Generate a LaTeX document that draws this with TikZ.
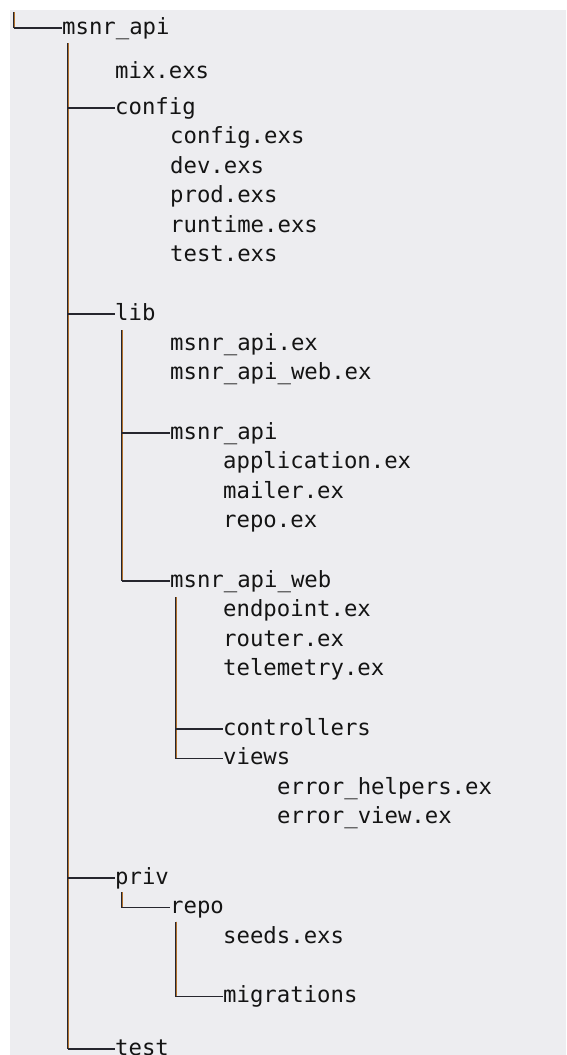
\documentclass[tikz,border=0pt]{standalone}
\usepackage{fontspec}
\setmonofont{DejaVu Sans Mono}
\definecolor{panel}{HTML}{EDEDF0}
\definecolor{ink}{HTML}{141414}
\definecolor{wire}{HTML}{26262E}
\definecolor{glow}{HTML}{B0702C}
\begin{document}
\ttfamily\fontsize{22.3}{27}\selectfont
\begin{tikzpicture}[x=1pt,y=-1pt,
		entry/.style={anchor=mid west,inner sep=0pt,text=ink},
		wires/.style={draw=wire,line width=1.3pt},
		pipe/.style={draw=wire,line width=1.4pt,postaction={draw=glow,line width=0.6pt,xshift=1.1pt}}]
	\useasboundingbox (0,0) rectangle (566,1055);
	\fill[panel] (10,10) rectangle (566,1055);
	% root
	\node[entry] (api) at (62,28) {msnr\_api};
	\node[entry] (mix) at (115,72) {mix.exs};
	\node[entry] (config) at (115,108) {config};
	\node[entry] (cfgexs) at (170,137.5) {config.exs};
	\node[entry] (dev) at (170,167) {dev.exs};
	\node[entry] (prod) at (170,196.5) {prod.exs};
	\node[entry] (runtime) at (170,226) {runtime.exs};
	\node[entry] (testexs) at (170,255.5) {test.exs};
	\node[entry] (lib) at (115,314) {lib};
	\node[entry] (apiex) at (170,344) {msnr\_api.ex};
	\node[entry] (webex) at (170,373.5) {msnr\_api\_web.ex};
	\node[entry] (libapi) at (170,433) {msnr\_api};
	\node[entry] (app) at (223,462.5) {application.ex};
	\node[entry] (mailer) at (223,492) {mailer.ex};
	\node[entry] (repoex) at (223,521.5) {repo.ex};
	\node[entry] (libweb) at (170,581) {msnr\_api\_web};
	\node[entry] (endpoint) at (223,610.5) {endpoint.ex};
	\node[entry] (router) at (223,640) {router.ex};
	\node[entry] (telemetry) at (223,669.5) {telemetry.ex};
	\node[entry] (ctrl) at (223,729) {controllers};
	\node[entry] (views) at (223,758.5) {views};
	\node[entry] (helpers) at (277,788) {error\_helpers.ex};
	\node[entry] (errview) at (277,817.5) {error\_view.ex};
	\node[entry] (priv) at (115,878) {priv};
	\node[entry] (repo) at (170,907.5) {repo};
	\node[entry] (seeds) at (223,937) {seeds.exs};
	\node[entry] (migr) at (223,996.5) {migrations};
	\node[entry] (test) at (115,1049) {test};
	% trunks
	\coordinate (top) at (14,12);
	\coordinate (t0) at ([shift={(6pt,-15pt)}]api.mid west);
	\coordinate (t1) at ([shift={(7pt,-16pt)}]lib.mid west);
	\coordinate (t2) at ([shift={(6pt,-16pt)}]libweb.mid west);
	\coordinate (t3) at ([shift={(7pt,-14pt)}]priv.mid west);
	\coordinate (t4) at ([shift={(6pt,-14pt)}]repo.mid west);
	\draw[pipe] (top) -- (top |- api.mid west);
	\draw[wires] (top |- api.mid west) -- (api.mid west);
	\draw[pipe] (t0) -- (t0 |- test.mid west);
	\draw[pipe] (t1) -- (t1 |- libweb.mid west);
	\draw[pipe] (t2) -- (t2 |- views.mid west);
	\draw[pipe] (t3) -- (t3 |- repo.mid west);
	\draw[pipe] (t4) -- (t4 |- migr.mid west);
	% branches
	\foreach \a/\b in {t0/config,t0/lib,t0/priv,t0/test,t1/libapi,t1/libweb,t2/ctrl,t2/views,t3/repo,t4/migr}
		\draw[wires] (\a |- \b.mid west) -- (\b.mid west);
\end{tikzpicture}
\end{document}
